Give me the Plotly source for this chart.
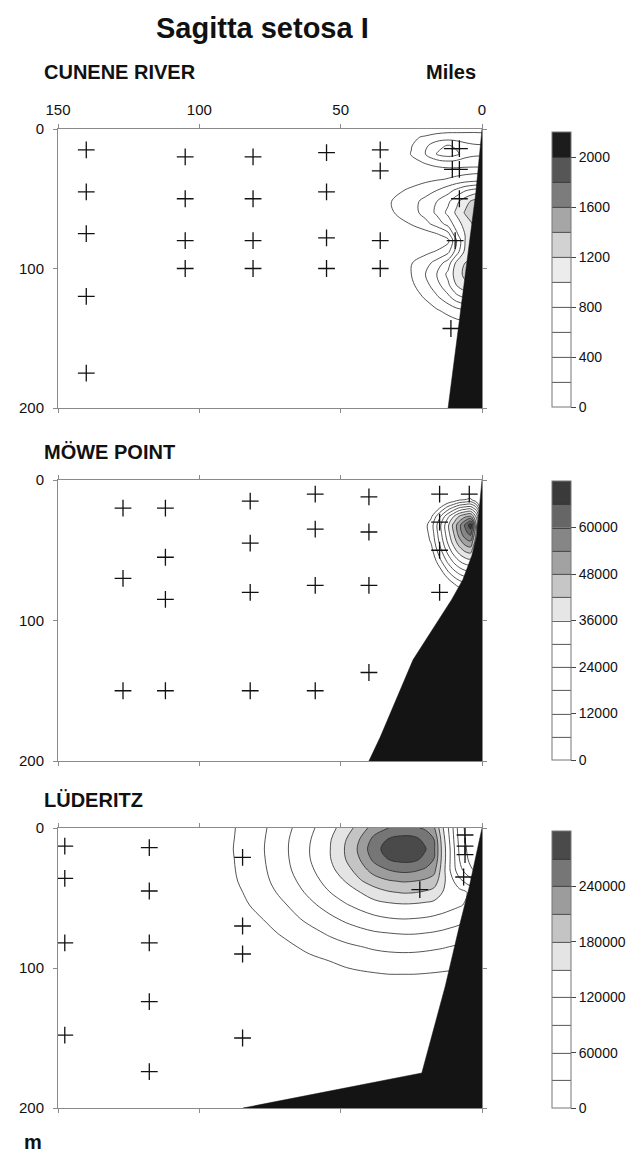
import plotly.graph_objects as go

W, H = 634, 1154

# ---------------- Panel 1 : CUNENE RIVER ----------------
x1 = [0, 3, 6, 9, 12, 16, 20, 25, 32, 40, 150]
y1 = [0, 6, 12, 18, 24, 30, 36, 44, 52, 60, 68, 76, 80, 88, 96, 104, 112, 120, 130, 140, 200]
z1 = [
    [150, 150, 140, 130, 120, 100, 60, 20, 0, 0, 0],
    [260, 270, 280, 290, 300, 280, 230, 160, 40, 0, 0],
    [420, 430, 470, 560, 620, 530, 360, 190, 60, 0, 0],
    [440, 450, 500, 640, 700, 610, 400, 210, 70, 0, 0],
    [260, 260, 280, 320, 340, 300, 220, 120, 30, 0, 0],
    [150, 150, 140, 130, 120, 100, 80, 40, 10, 0, 0],
    [300, 290, 270, 240, 210, 180, 150, 100, 40, 0, 0],
    [900, 860, 780, 650, 520, 400, 320, 240, 130, 30, 0],
    [1300, 1260, 1120, 950, 760, 600, 460, 330, 200, 60, 0],
    [1380, 1340, 1220, 1040, 850, 640, 470, 320, 180, 50, 0],
    [1250, 1220, 1080, 900, 680, 480, 340, 210, 100, 20, 0],
    [1200, 1150, 1000, 750, 300, 160, 90, 50, 20, 0, 0],
    [1100, 1080, 1000, 600, 150, 60, 40, 20, 0, 0, 0],
    [1100, 1100, 1050, 700, 350, 220, 150, 80, 20, 0, 0],
    [1250, 1250, 1200, 1050, 700, 480, 320, 190, 60, 0, 0],
    [1300, 1300, 1250, 1100, 850, 600, 400, 200, 60, 0, 0],
    [1200, 1200, 1150, 1000, 760, 520, 330, 160, 40, 0, 0],
    [900, 900, 850, 750, 560, 380, 230, 100, 20, 0, 0],
    [400, 400, 380, 330, 260, 180, 100, 40, 0, 0, 0],
    [150, 150, 140, 120, 90, 60, 30, 10, 0, 0, 0],
    [0, 0, 0, 0, 0, 0, 0, 0, 0, 0, 0],
]
st1_x = [140, 140, 140, 140, 140, 105, 105, 105, 105, 81, 81, 81, 81,
         55, 55, 55, 55, 36, 36, 36, 36, 10.5, 8, 10.5, 8, 8, 9.5, 11]
st1_y = [15, 45, 75, 120, 175, 20, 50, 80, 100, 20, 50, 80, 100,
         17, 45, 78, 100, 15, 30, 80, 100, 14, 14, 29, 29, 50, 80, 143]
sea1_x = [0, 1.8, 2.2, 12, 0]
sea1_y = [0, 36, 46, 200, 200]

# ---------------- Panel 2 : MÖWE POINT ----------------
x2 = [0, 2, 4, 6, 8, 10, 12, 15, 18, 22, 30, 150]
y2 = [0, 8, 14, 20, 26, 32, 38, 44, 50, 58, 66, 74, 82, 95, 200]
z2 = [
    [0, 0, 0, 0, 0, 0, 0, 0, 0, 0, 0, 0],
    [0, 0, 0, 0, 0, 0, 0, 0, 0, 0, 0, 0],
    [0, 1000, 7000, 6000, 5000, 2000, 0, 0, 0, 0, 0, 0],
    [0, 20000, 28000, 27000, 25000, 20000, 15000, 6000, 0, 0, 0, 0],
    [10000, 35000, 49000, 47000, 43000, 36000, 29000, 17000, 5000, 0, 0, 0],
    [14000, 42000, 70000, 61000, 52000, 44000, 35000, 22000, 9000, 0, 0, 0],
    [13000, 41000, 62000, 58000, 51000, 42000, 34000, 21000, 8000, 0, 0, 0],
    [11500, 37300, 53200, 51100, 45700, 38800, 31200, 19000, 6500, 0, 0, 0],
    [8600, 32300, 44800, 43300, 39300, 33600, 26900, 15700, 3800, 0, 0, 0],
    [3200, 24100, 33600, 32600, 29600, 25100, 19500, 9700, 0, 0, 0, 0],
    [0, 14800, 22400, 21600, 19300, 15600, 10900, 2300, 0, 0, 0, 0],
    [0, 4900, 11200, 10600, 8700, 5600, 1600, 0, 0, 0, 0, 0],
    [0, 0, 0, 0, 0, 0, 0, 0, 0, 0, 0, 0],
    [0, 0, 0, 0, 0, 0, 0, 0, 0, 0, 0, 0],
    [0, 0, 0, 0, 0, 0, 0, 0, 0, 0, 0, 0],
]
st2_x = [127, 127, 127, 112, 112, 112, 112, 82, 82, 82, 82,
         59, 59, 59, 59, 40, 40, 40, 40, 15, 4.5, 15, 15, 15]
st2_y = [20, 70, 150, 20, 55, 85, 150, 15, 45, 80, 150,
         10, 35, 75, 150, 12, 37, 75, 137, 10, 10, 30, 50, 80]
sea2_x = [0, 0.7, 1.9, 3.6, 6.8, 10.7, 24.4, 36, 40, 0]
sea2_y = [0, 16, 40, 54, 71, 85, 128, 183, 200, 200]

# ---------------- Panel 3 : LÜDERITZ ----------------
x3 = [0, 4, 8, 11, 14, 17, 20, 24, 28, 33, 38, 43, 48, 54, 61, 69, 77, 88, 100, 150]
y3 = [0, 8, 15, 22, 30, 38, 46, 55, 65, 75, 85, 95, 105, 115, 130, 200]
z3k = [
    [0, 10, 45, 105, 155, 215, 235, 245, 248, 240, 224, 195, 166, 139, 113, 83, 57, 28, 2, 0],
    [0, 10, 50, 110, 165, 240, 262, 278, 280, 272, 250, 212, 180, 146, 118, 87, 59, 29, 4, 0],
    [0, 15, 55, 115, 170, 246, 272, 285, 288, 280, 262, 218, 184, 148, 120, 88, 60, 30, 4, 0],
    [5, 20, 60, 115, 170, 240, 262, 278, 280, 272, 250, 212, 182, 147, 119, 87, 59, 29, 4, 0],
    [15, 35, 70, 115, 165, 220, 235, 245, 248, 240, 224, 196, 169, 140, 114, 84, 57, 28, 3, 0],
    [50, 70, 100, 130, 160, 196, 204, 210, 212, 207, 195, 177, 152, 131, 106, 78, 54, 26, 1, 0],
    [100, 115, 130, 142, 150, 169, 176, 181, 182, 177, 166, 150, 137, 119, 96, 71, 48, 22, 0, 0],
    [102, 113, 123, 129, 135, 140, 143, 146, 147, 144, 139, 129, 118, 102, 83, 60, 41, 18, 0, 0],
    [83, 91, 100, 105, 110, 114, 117, 119, 120, 118, 113, 105, 96, 83, 67, 49, 31, 11, 0, 0],
    [64, 72, 77, 81, 85, 88, 90, 92, 92, 90, 87, 81, 74, 64, 51, 36, 22, 3, 0, 0],
    [47, 52, 56, 59, 62, 64, 66, 68, 68, 67, 64, 59, 54, 47, 37, 24, 13, 0, 0, 0],
    [30, 35, 39, 41, 43, 45, 46, 47, 48, 47, 45, 41, 37, 30, 23, 13, 2, 0, 0, 0],
    [17, 20, 23, 25, 26, 27, 28, 29, 29, 29, 27, 25, 22, 17, 10, 1, 0, 0, 0, 0],
    [4, 7, 9, 11, 12, 13, 14, 14, 15, 14, 13, 11, 8, 4, 0, 0, 0, 0, 0, 0],
    [0, 0, 0, 0, 0, 0, 0, 0, 0, 0, 0, 0, 0, 0, 0, 0, 0, 0, 0, 0],
    [0, 0, 0, 0, 0, 0, 0, 0, 0, 0, 0, 0, 0, 0, 0, 0, 0, 0, 0, 0],
]
z3 = [[v * 1000 for v in row] for row in z3k]
st3_x = [147.6, 147.6, 147.6, 147.6, 117.7, 117.7, 117.7, 117.7, 117.7,
         84.7, 84.7, 84.7, 84.7, 6, 6, 6, 6.5, 22]
st3_y = [13, 36, 82, 148, 14, 45, 82, 124, 174,
         21, 70, 90, 150, 5, 13, 19, 35, 44]
sea3_x = [0, 4.5, 8, 13, 21.3, 84.5, 0]
sea3_y = [0, 42, 70, 113, 175, 200, 200]

# colour bands (lowest band first)
bands1 = ["#ffffff"] * 5 + ["#ececec", "#d2d2d2", "#a6a6a6", "#7c7c7c", "#565656", "#1c1c1c"]
bands2 = ["#ffffff"] * 6 + ["#e6e6e6", "#c6c6c6", "#a2a2a2", "#868686", "#666666", "#3a3a3a"]
bands3 = ["#ffffff"] * 5 + ["#e4e4e4", "#c4c4c4", "#9c9c9c", "#767676", "#4a4a4a"]


def mid_scale(colors):
    # colour of band k sampled at its midpoint by contour 'fill' colouring
    n = len(colors)
    scale = []
    for k, c in enumerate(colors):
        lo = 0 if k == 0 else (k - 0.5) / (n - 1)
        hi = 1 if k == n - 1 else (k + 0.5) / (n - 1)
        scale.append([lo, c])
        scale.append([hi, c])
    return scale


def even_scale(colors):
    # equal steps over the full zmin..zmax range (for the colour bar)
    n = len(colors)
    scale = []
    for k, c in enumerate(colors):
        scale.append([k / n, c])
        scale.append([(k + 1) / n, c])
    return scale


FONT = "Liberation Sans, Arial, sans-serif"
XL, XR = 58 / W, 482 / W
panels = [(129, 408), (480, 761), (828, 1108)]
cb_px = [(132, 407), (481, 760), (831, 1108)]


def ydom(top, bot):
    return [1 - bot / H, 1 - top / H]


fig = go.Figure()

specs = [
    (x1, y1, z1, 200, 2000, 200, 2200, bands1, [0, 400, 800, 1200, 1600, 2000], st1_x, st1_y, sea1_x, sea1_y),
    (x2, y2, z2, 6000, 66000, 6000, 72000, bands2, [0, 12000, 24000, 36000, 48000, 60000], st2_x, st2_y, sea2_x, sea2_y),
    (x3, y3, z3, 30000, 270000, 30000, 300000, bands3, [0, 60000, 120000, 180000, 240000], st3_x, st3_y, sea3_x, sea3_y),
]

LINE = dict(color="#2a2a2a", width=0.8, smoothing=1.0)

for i, (xx, yy, zz, s0, s1, ss, zmax, bands, cbt, sx, sy, bx, by) in enumerate(specs):
    ax = "" if i == 0 else str(i + 1)
    ctop, cbot = cb_px[i]
    fig.add_trace(go.Contour(
        x=xx, y=yy, z=zz,
        xaxis="x" + ax, yaxis="y" + ax,
        autocontour=False,
        contours=dict(start=s0, end=s1, size=ss, coloring="fill", showlines=True),
        line=LINE, colorscale=mid_scale(bands), showscale=False, hoverinfo="skip",
    ))
    # colour-bar carrier, placed outside the visible axis range
    fig.add_trace(go.Contour(
        x=[1000, 1001], y=[1000, 1001], z=[[0, zmax], [0, zmax]],
        xaxis="x" + ax, yaxis="y" + ax,
        autocontour=False, zmin=0, zmax=zmax,
        contours=dict(start=s0, end=s1, size=ss, coloring="heatmap", showlines=True),
        line=LINE, colorscale=even_scale(bands), hoverinfo="skip",
        colorbar=dict(
            x=552 / W, xanchor="left", xpad=0,
            y=1 - (ctop + cbot) / 2 / H, yanchor="middle", ypad=0,
            len=cbot - ctop, lenmode="pixels",
            thickness=19, thicknessmode="pixels",
            outlinecolor="#777", outlinewidth=1,
            tickvals=cbt, tickformat="d", ticks="outside", ticklen=5, tickcolor="#444",
            tickfont=dict(family=FONT, size=14, color="#111"),
        ),
    ))
    fig.add_trace(go.Scatter(
        x=bx, y=by, xaxis="x" + ax, yaxis="y" + ax,
        mode="lines", fill="toself", fillcolor="#141414",
        line=dict(color="#141414", width=0.5), hoverinfo="skip", showlegend=False,
    ))
    fig.add_trace(go.Scatter(
        x=sx, y=sy, xaxis="x" + ax, yaxis="y" + ax, mode="markers",
        marker=dict(symbol="cross-thin", size=12, line=dict(color="#111", width=1.3)),
        hoverinfo="skip", showlegend=False,
    ))

axis_common = dict(
    showline=True, linecolor="#8a8a8a", linewidth=1, mirror="ticks",
    ticks="outside", ticklen=4, tickcolor="#8a8a8a", showgrid=False, zeroline=False,
    tickfont=dict(family=FONT, size=15, color="#111"), automargin=False,
)

layout = dict(
    width=W, height=H, margin=dict(l=0, r=0, t=0, b=0, autoexpand=False),
    paper_bgcolor="white", plot_bgcolor="white", showlegend=False,
    font=dict(family=FONT, color="#111"),
)
for i, (top, bot) in enumerate(panels):
    ax = "" if i == 0 else str(i + 1)
    layout["xaxis" + ax] = dict(
        axis_common, domain=[XL, XR], range=[150, 0], tickvals=[0, 50, 100, 150],
        anchor="y" + ax, side="top" if i == 0 else "bottom", showticklabels=(i == 0),
        ticklabelstandoff=3,
    )
    layout["yaxis" + ax] = dict(
        axis_common, domain=ydom(top, bot), range=[200, 0], tickvals=[0, 100, 200],
        anchor="x" + ax, ticklabelstandoff=6,
    )

fig.update_layout(**layout)

ann = [
    dict(text="Sagitta setosa I", x=262 / W, y=1 - 28 / H, size=29),
    dict(text="CUNENE RIVER", x=42 / W, y=1 - 72 / H, size=20, xanchor="left"),
    dict(text="Miles", x=478 / W, y=1 - 72 / H, size=20, xanchor="right"),
    dict(text="MÖWE POINT", x=42 / W, y=1 - 452 / H, size=20, xanchor="left"),
    dict(text="LÜDERITZ", x=42 / W, y=1 - 800 / H, size=20, xanchor="left"),
    dict(text="m", x=22 / W, y=1 - 1142 / H, size=20, xanchor="left"),
]
for a in ann:
    fig.add_annotation(
        text="<b>%s</b>" % a["text"], x=a["x"], y=a["y"], xref="paper", yref="paper",
        xanchor=a.get("xanchor", "center"), yanchor="middle", showarrow=False,
        font=dict(family=FONT, size=a["size"], color="#111"),
    )

fig.write_html("out.html")
